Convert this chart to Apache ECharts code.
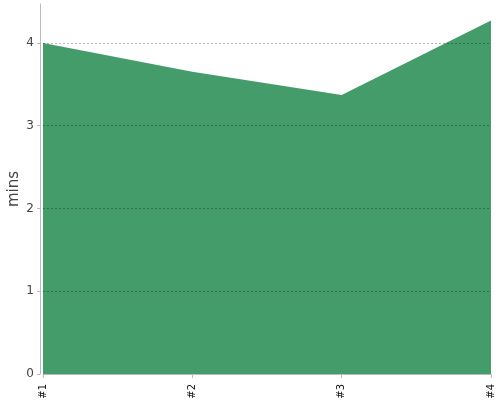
<!DOCTYPE html>
<html><head><meta charset="utf-8">
<script src="https://cdn.jsdelivr.net/npm/echarts@6/dist/echarts.min.js"></script>
<style>html,body{margin:0;padding:0;background:#fff}#c{width:500px;height:400px}</style>
</head><body><div id="c"></div>
<script>
const categories = ['#1', '#2', '#3', '#4'];
const values = [4.0, 3.65, 3.37, 4.27];
const yTicks = [0, 1, 2, 3, 4];

const chart = echarts.init(document.getElementById('c'), null, {renderer: 'canvas'});
chart.setOption({
  animation: false,
  grid: {left: 43, right: 9, top: 4, bottom: 26, containLabel: false, outerBoundsMode: 'none'},
  xAxis: {
    type: 'category', data: categories, boundaryGap: false, offset: 4,
    axisLine: {lineStyle: {color: '#bbb'}},
    axisTick: {alignWithLabel: true, length: 4, lineStyle: {color: '#bbb'}},
    axisLabel: {rotate: 90, fontSize: 10, color: '#111', fontFamily: 'DejaVu Sans', margin: 6},
    splitLine: {show: false}
  },
  yAxis: {
    type: 'value', min: 0, max: 4.47, interval: 1, offset: 3, z: 5,
    name: 'mins', nameLocation: 'middle', nameGap: 18, nameRotate: 90, nameMoveOverlap: false,
    nameTextStyle: {fontSize: 15, color: '#444', fontFamily: 'DejaVu Sans'},
    axisLine: {show: true, lineStyle: {color: '#bbb'}},
    axisTick: {show: true, length: 3, lineStyle: {color: '#bbb'}},
    axisLabel: {fontSize: 12, color: '#444', fontFamily: 'DejaVu Sans', margin: 6,
      showMaxLabel: false,
      formatter: v => yTicks.includes(v) ? String(v) : ''},
    splitLine: {show: true, showMaxLine: false, showMinLine: false,
      lineStyle: {color: 'rgba(0,0,0,0.28)', type: [2, 2], width: 1}}
  },
  series: [{
    type: 'line', data: values, z: 2,
    symbol: 'none', lineStyle: {width: 0},
    areaStyle: {color: '#459c6b', opacity: 1}
  }]
});
</script></body></html>
